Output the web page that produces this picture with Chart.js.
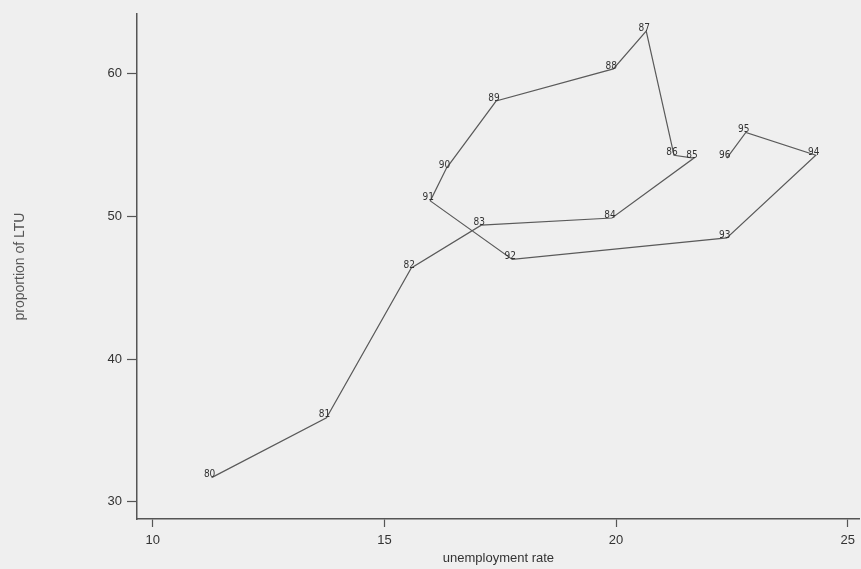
<!DOCTYPE html>
<html>
<head>
<meta charset="utf-8">
<script src="https://cdn.jsdelivr.net/npm/chart.js@4.4.1/dist/chart.umd.min.js"></script>
<style>
  html, body { margin: 0; padding: 0; background: #efefef; }
  #wrap { width: 861px; height: 569px; position: relative; }
</style>
</head>
<body>
<div id="wrap"><canvas id="chart" width="861" height="569"></canvas></div>
<script>
// Years labelling each point (19xx)
const years = ['80', '81', '82', '83', '84', '85', '86', '87', '88', '89', '90', '91', '92', '93', '94', '95', '96'];
// Unemployment rate (x)
const unemployment = [11.27, 13.75, 15.58, 17.09, 19.91, 21.68, 21.25, 20.65, 19.94, 17.41, 16.34, 15.99, 17.76, 22.39, 24.31, 22.80, 22.39];
// Proportion of long-term unemployed (y)
const proportionLTU = [31.7, 35.9, 46.4, 49.4, 49.9, 54.1, 54.3, 63.0, 60.35, 58.1, 53.4, 51.1, 47.0, 48.5, 54.3, 55.9, 54.1];

const xTicks = [10, 15, 20, 25];
const yTicks = [30, 40, 50, 60];

const points = unemployment.map((u, i) => ({ x: u, y: proportionLTU[i] }));

// Draw the year labels on top of each vertex
const yearLabels = {
    id: 'yearLabels',
    afterDatasetsDraw(chart) {
        const ctx = chart.ctx;
        const meta = chart.getDatasetMeta(0);
        ctx.save();
        ctx.font = '10px "Liberation Sans Narrow", "DejaVu Sans Condensed", sans-serif';
        ctx.fillStyle = '#333';
        ctx.textAlign = 'center';
        ctx.textBaseline = 'middle';
        meta.data.forEach((pt, i) => {
            ctx.fillText(years[i], pt.x - 2, pt.y - 3);
        });
        ctx.restore();
    }
};

const ctx = document.getElementById('chart').getContext('2d');
new Chart(ctx, {
    type: 'scatter',
    data: {
        datasets: [{
            data: points,
            showLine: true,
            borderColor: '#5a5a5a',
            borderWidth: 1.2,
            pointRadius: 0,
            tension: 0
        }]
    },
    options: {
        responsive: false,
        animation: false,
        layout: { padding: { top: 14, right: 0, left: 0, bottom: 0 } },
        plugins: {
            legend: { display: false },
            tooltip: { enabled: false }
        },
        scales: {
            x: {
                type: 'linear',
                min: 9.66,
                max: 25.26,
                afterBuildTicks: s => { s.ticks = xTicks.map(v => ({ value: v })); },
                afterFit: s => { s.height = 50; },
                grid: { drawOnChartArea: false, tickLength: 8, color: '#555', tickWidth: 1.2 },
                border: { display: true, color: '#555', width: 1.5 },
                ticks: {
                    color: '#333',
                    padding: 6,
                    maxRotation: 0,
                    font: { family: '"Liberation Sans", Arial, sans-serif', size: 13 }
                },
                title: {
                    display: true,
                    text: 'unemployment rate',
                    color: '#333',
                    padding: { top: 0, bottom: 3 },
                    font: { family: '"Liberation Sans", Arial, sans-serif', size: 13 }
                }
            },
            y: {
                type: 'linear',
                min: 28.8,
                max: 64.2,
                afterBuildTicks: s => { s.ticks = yTicks.map(v => ({ value: v })); },
                afterFit: s => { s.width = 137; },
                grid: { drawOnChartArea: false, tickLength: 10, color: '#555', tickWidth: 1.2 },
                border: { display: true, color: '#555', width: 1.5 },
                ticks: {
                    color: '#333',
                    padding: 5,
                    font: { family: '"Liberation Sans", Arial, sans-serif', size: 13 }
                },
                title: {
                    display: true,
                    text: 'proportion of LTU',
                    color: '#555',
                    padding: { top: 12, bottom: 0 },
                    font: { family: '"Liberation Sans Narrow", "Liberation Sans", Arial, sans-serif', size: 14 }
                }
            }
        }
    },
    plugins: [yearLabels]
});
</script>
</body>
</html>
